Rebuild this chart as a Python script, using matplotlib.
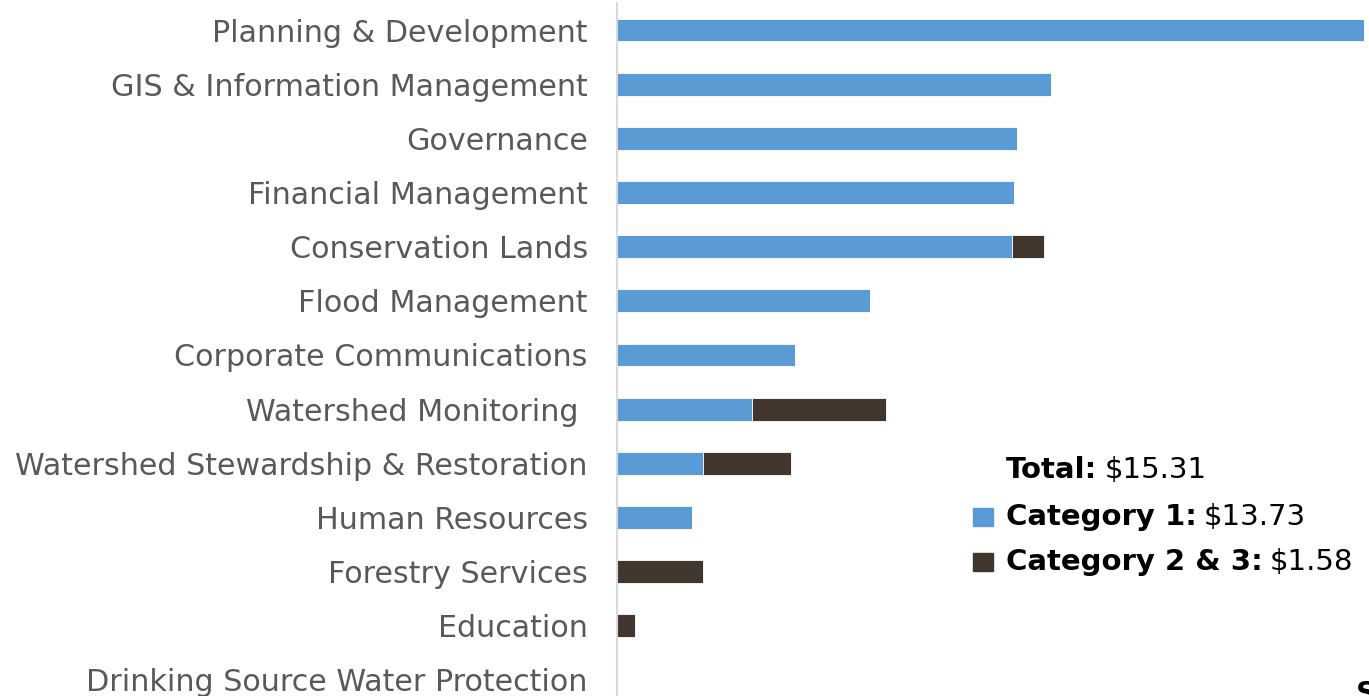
import matplotlib.pyplot as plt
import numpy as np

categories = [
    "Planning & Development",
    "GIS & Information Management",
    "Governance",
    "Financial Management",
    "Conservation Lands",
    "Flood Management",
    "Corporate Communications",
    "Watershed Monitoring ",
    "Watershed Stewardship & Restoration",
    "Human Resources",
    "Forestry Services",
    "Education",
    "Drinking Source Water Protection",
]
category_1 = [3.31, 1.92, 1.77, 1.76, 1.75, 1.12, 0.79, 0.60, 0.38, 0.33, 0.0, 0.0, 0.0]
category_23 = [0.0, 0.0, 0.0, 0.0, 0.14, 0.0, 0.0, 0.59, 0.39, 0.0, 0.38, 0.08, 0.0]
totals = {"Total": "$15.31", "Category 1": "$13.73", "Category 2 & 3": "$1.58"}

BLUE = "#5B9BD5"
DARK = "#40362E"
FS = 21

fig = plt.figure(figsize=(13.69, 6.96), dpi=100)
ax = fig.add_axes([617 / 1369, -11 / 696, 1 - 617 / 1369, 704 / 696])

y = np.arange(len(categories))
ax.barh(y, category_1, height=0.42, color=BLUE, edgecolor="white", linewidth=0.6)
ax.barh(y, category_23, left=category_1, height=0.42, color=DARK, edgecolor="white", linewidth=0.6)

ax.set_ylim(len(categories) - 0.5, -0.5)
ax.set_xlim(0, 3.33)
ax.set_yticks(y)
ax.set_yticklabels(categories, fontsize=21.7, color="#595959", va="center_baseline")
ax.tick_params(axis="y", length=0, pad=21)
ax.set_xticks([])
for side in ["top", "right", "bottom"]:
    ax.spines[side].set_visible(False)
ax.spines["left"].set_color("#D9D9D9")
ax.spines["left"].set_linewidth(1.5)

# legend built from text pieces
fig.canvas.draw()
renderer = fig.canvas.get_renderer()
rows = [("Total", None, 470), ("Category 1", BLUE, 517), ("Category 2 & 3", DARK, 562)]
x0 = 1006
for name, color, ypx in rows:
    yf = 1 - ypx / 696
    t = fig.text(x0 / 1369, yf, name + ":", fontsize=FS, fontweight="bold",
                 color="black", va="center", ha="left")
    bb = t.get_window_extent(renderer)
    fig.text(bb.x1 / 1369 + 7 / 1369, yf, totals[name], fontsize=FS,
             color="black", va="center", ha="left")
    if color is not None:
        fig.patches.append(plt.Rectangle((973 / 1369, 1 - (ypx + 9) / 696), 20 / 1369, 18 / 696,
                                         transform=fig.transFigure, color=color, figure=fig))

# cut-off text at bottom right corner
fig.text(1356 / 1369, 1 - 680 / 696, "S", fontsize=FS, fontweight="bold",
         color="black", va="top", ha="left")

fig.savefig("out.png", dpi=100)
